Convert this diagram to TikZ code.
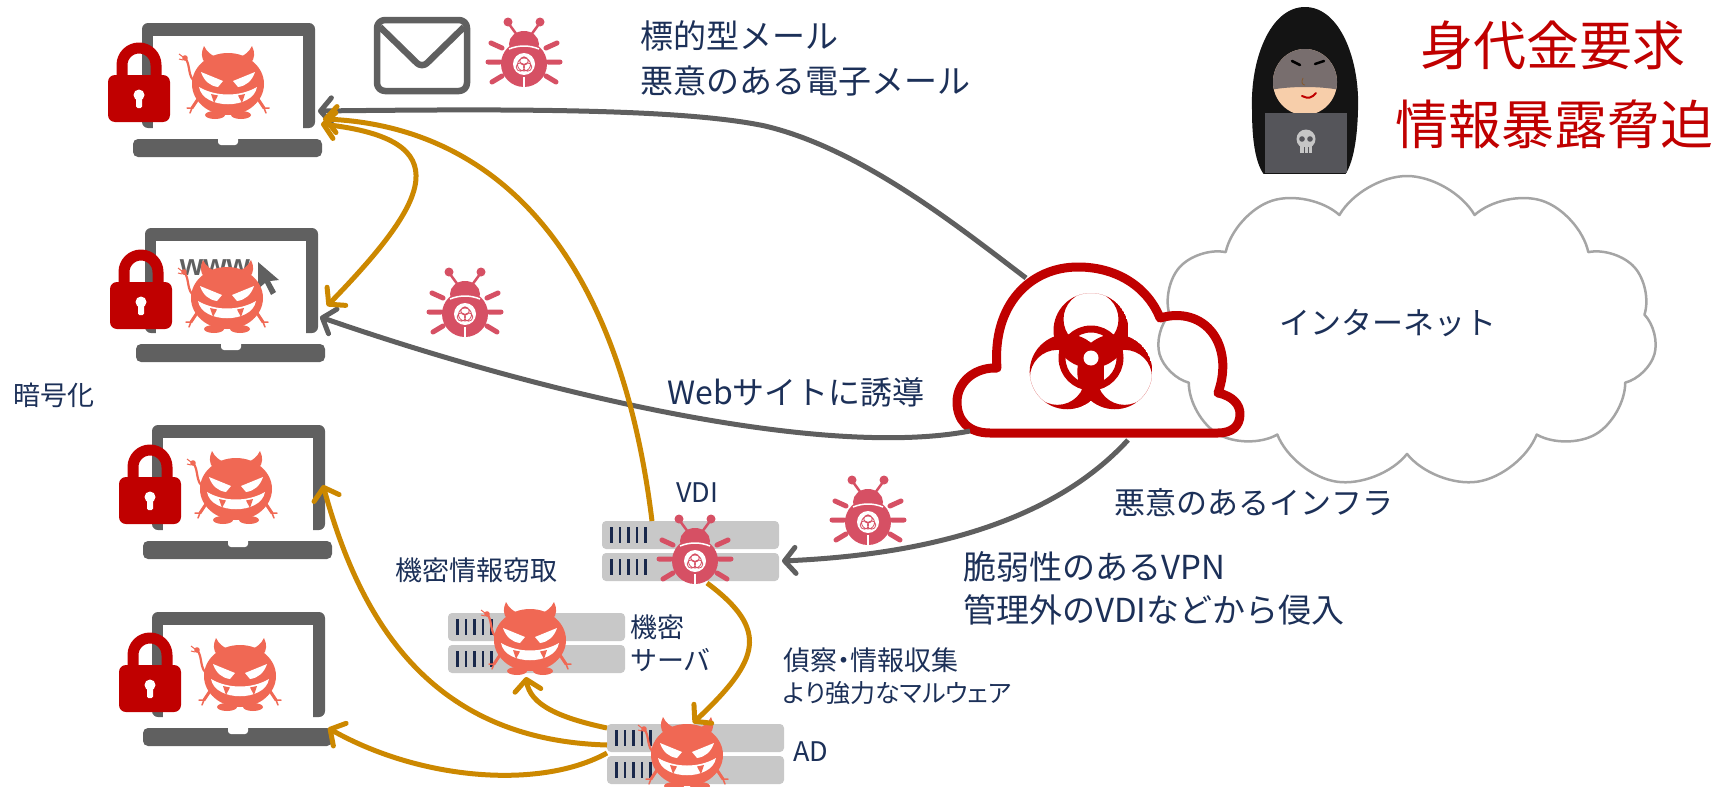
\documentclass[tikz,border=0pt]{standalone}
\usepackage{fontspec}
\setmainfont{Noto Sans CJK JP}
\newfontfamily\latinfont{Liberation Sans}
\newfontfamily\propjp[RawFeature=+palt]{Noto Sans CJK JP}
\usetikzlibrary{arrows.meta,shapes.symbols}

\definecolor{txt}{RGB}{28,48,88}
\definecolor{alert}{RGB}{192,0,0}
\definecolor{lapgray}{RGB}{96,96,96}
\definecolor{linkgray}{RGB}{95,95,95}
\definecolor{gold}{RGB}{204,136,0}
\definecolor{devil}{RGB}{240,104,84}
\definecolor{bug}{RGB}{214,80,100}
\definecolor{rack}{RGB}{200,200,200}
\definecolor{slot}{RGB}{25,40,75}
\definecolor{cloudgray}{RGB}{165,165,165}
\definecolor{skin}{RGB}{247,206,170}
\definecolor{mask}{RGB}{120,110,110}
\definecolor{pcgray}{RGB}{85,85,90}

\tikzset{
  barb/.tip={Straight Barb[length=11pt,width=26pt,round]},
  lbl/.style={text=txt, font=\fontsize{31}{37}\selectfont, inner sep=0pt},
  biglbl/.style={text=txt, font=\fontsize{33}{39}\selectfont, inner sep=0pt},
  smalllbl/.style={text=txt, font=\fontsize{27}{32}\selectfont, inner sep=0pt},
  bigred/.style={text=alert, font=\fontsize{53}{60}\selectfont, inner sep=0pt},
  grayarrow/.style={draw=linkgray, line width=5pt, -{barb}},
  goldarrow/.style={draw=gold, line width=5pt, -{barb}},
  laptop/.pic={
    \fill[lapgray, rounded corners=6pt] (0,0) rectangle (173,105);
    \fill[white] (11,13) rectangle (161,106);
    \fill[lapgray, rounded corners=5pt] (-9,116) rectangle (180,134);
    \fill[white, rounded corners=3pt] (76,112) rectangle (96,122);
  },
  padlock/.pic={
    \draw[alert, line width=11pt] (-17,4) -- (-17,-10) arc (180:360:17) -- (17,4);
    \fill[alert, rounded corners=7pt] (-31,0) rectangle (31,47);
    \fill[white] (0,20) circle (5.5);
    \fill[white, rounded corners=1.5pt] (-3,20) rectangle (3,33);
  },
  monster/.pic={
    \draw[devil, line width=2.2pt, line cap=round] (-32,-2) .. controls (-41,-6) and (-37,-20) .. (-43,-26);
    \fill[devil] (-43,-26) circle (2.8);
    \draw[devil, line width=1pt] (-45,-27) -- (-49,-30) (-45,-24) -- (-49,-25);
    \fill[devil] (-23,-21) .. controls (-27,-26) and (-27,-32) .. (-24,-38) .. controls (-21,-32) and (-17,-29) .. (-12,-27) -- cycle;
    \fill[devil] (23,-21) .. controls (27,-26) and (27,-32) .. (24,-38) .. controls (21,-32) and (17,-29) .. (12,-27) -- cycle;
    \draw[devil, line width=3pt, line cap=round] (-30,15) -- (-36,24) (30,15) -- (36,24);
    \draw[devil, line width=1.5pt, line cap=round] (-36,24) -- (-41,24) (-36,24) -- (-38,29) (36,24) -- (41,24) (36,24) -- (38,29);
    \fill[devil] (-13,31) ellipse (10 and 4) (13,31) ellipse (10 and 4);
    \fill[devil] (0,0) ellipse (36 and 31);
    \fill[white] (-27,-12) -- (-5,-3) -- (-10,3) .. controls (-18,2) and (-24,-3) .. cycle;
    \fill[white] (27,-12) -- (5,-3) -- (10,3) .. controls (18,2) and (24,-3) .. cycle;
    \fill[white] (-29,3) .. controls (-12,13) and (12,13) .. (29,3) .. controls (25,26) and (-25,26) .. cycle;
    \fill[devil] (-17,10) -- (-10,11.5) -- (-14,19) -- cycle;
    \fill[devil] (17,10) -- (10,11.5) -- (14,19) -- cycle;
    \fill[devil] (-2,20.5) rectangle (2,24);
  },
  virus/.pic={
    \draw[bug, line width=2.5pt] (-7,-25) -- (-15,-36) (7,-25) -- (15,-36);
    \fill[bug] (-16,-38) circle (4.5) (16,-38) circle (4.5);
    \draw[bug, line width=5pt, line cap=round]
      (-22,-12) -- (-33,-17) (-24,2) -- (-36,2) (-22,16) -- (-32,22)
      (22,-12) -- (33,-17) (24,2) -- (36,2) (22,16) -- (32,22);
    \fill[bug] (0,-16) ellipse (15 and 13);
    \fill[bug] (0,4) ellipse (23 and 23);
    \draw[white, line width=1.5pt] (-15,-11) .. controls (-5,-15) and (5,-15) .. (15,-11);
    \draw[white, line width=2pt] (0,17) -- (0,28);
    \fill[white] (0,4) circle (11);
    \draw[bug, line width=0.8pt] (0,1) circle (4.2) (-3.6,7) circle (4.2) (3.6,7) circle (4.2) (0,4.5) circle (6.5);
  },
  rackpair/.pic={
    \fill[rack, rounded corners=4pt] (0,0) rectangle (177,28);
    \fill[rack, rounded corners=4pt] (0,32) rectangle (177,60);
    \foreach \k in {0,...,4} {
      \fill[slot] (8+8.5*\k,6) rectangle ++(2.6,16);
      \fill[slot] (8+8.5*\k,38) rectangle ++(2.6,16);
    }
  },
}

\begin{document}
\begin{tikzpicture}[x=1pt, y=-1pt, line join=round]
\useasboundingbox (0,0) rectangle (1714,787);

% ---- internet cloud and malicious infrastructure ----
\node[cloud, draw=cloudgray, line width=2.5pt, cloud puffs=11, cloud puff arc=120,
      aspect=1.6, minimum width=500pt, minimum height=312pt, inner sep=0pt] (net) at (1407,332) {};
\node[lbl] (nettxt) at (1388,323) {インターネット};

\draw[alert, line width=9pt] (990,433) .. controls (968,433) and (957,420) .. (957,402)
  .. controls (957,382) and (975,367) .. (997,368)
  .. controls (992,305) and (1030,267) .. (1078,267)
  .. controls (1118,267) and (1148,288) .. (1160,318)
  .. controls (1205,305) and (1235,345) .. (1218,393)
  .. controls (1233,396) and (1240,405) .. (1240,414)
  .. controls (1240,426) and (1232,433) .. (1218,433) -- cycle;

% biohazard sign
\begin{scope}[shift={(1091,358)}]
  \foreach \a in {270,150,30} {
    \begin{scope}
      \clip (\a:27.5) circle (37.5);
      \fill[alert, even odd rule] (\a:27.5) circle (37.5) (\a:38.75) circle (27.5);
    \end{scope}
  }
  \draw[alert, line width=7pt] (0,0) circle (29);
  \fill[white] (0,0) circle (7.5);
\end{scope}
\coordinate (redNW) at (1026,278);
\coordinate (redSW) at (970,431);
\coordinate (redS) at (1128,440);

% ---- attacker ----
\begin{scope}
  \clip (1240,0) rectangle (1370,173);
  \fill[black!92] (1305,7) .. controls (1340,7) and (1360,60) .. (1358,110)
    .. controls (1357,150) and (1350,173) .. (1340,180) -- (1270,180)
    .. controls (1258,173) and (1252,150) .. (1252,110)
    .. controls (1250,60) and (1270,7) .. (1305,7) -- cycle;
\end{scope}
\fill[skin] (1305,82) ellipse (32 and 33);
\begin{scope}
  \clip (1305,82) ellipse (32 and 33);
  \fill[mask] (1270,40) -- (1340,40) -- (1340,90) .. controls (1320,86) and (1290,86) .. (1270,90) -- cycle;
  \fill[black!92] (1270,40) -- (1305,48) -- (1340,40) -- cycle;
\end{scope}
\draw[black, line width=2.5pt, line cap=round] (1292,61) -- (1300,65) (1315,64) -- (1324,61);
\draw[brown!70!black, line width=0.8pt] (1303,78) .. controls (1301,82) and (1302,85) .. (1305,85);
\draw[red!75!black, line width=2pt, line cap=round] (1302,96) .. controls (1308,99) and (1312,98) .. (1316,93);
\fill[pcgray] (1265,113) rectangle (1347,173);
\fill[gray!45] (1306,139) circle (9.5);
\fill[gray!45] (1300,143) rectangle (1312,153);
\fill[pcgray] (1302,139) circle (2.8) (1310,139) circle (2.8);
\draw[pcgray, line width=0.8pt] (1304,147) -- (1304,153) (1308,147) -- (1308,153);

\node[bigred] (ransom) at (1553,45) {身代金要求};
\node[bigred] (leak) at (1554,124) {情報暴露脅迫};

% ---- client laptops ----
\pic (lap1) at (142,23) {laptop};
\pic (lap2) at (145,228) {laptop};
\pic (lap3) at (152,425) {laptop};
\pic (lap4) at (152,612) {laptop};

\node[font=\latinfont\bfseries\fontsize{30}{30}\selectfont, text=lapgray, inner sep=0pt] (www) at (215,268) {www};
\fill[lapgray] (258,262) -- (258,289) -- (265,283) -- (271,295) -- (276,292) -- (270,281) -- (279,280) -- cycle;

\pic (dv1) at (228,84) {monster};
\pic (dv2) at (227,298) {monster};
\pic (dv3) at (236,489) {monster};
\pic (dv4) at (240,676) {monster};

\pic (lk1) at (139,75) {padlock};
\pic (lk2) at (141,282) {padlock};
\pic (lk3) at (150,477) {padlock};
\pic (lk4) at (150,665) {padlock};

\node[smalllbl, anchor=west] (crypt) at (13,395) {暗号化};

% ---- mail and viruses ----
\draw[lapgray, line width=6.5pt, rounded corners=8pt] (377,20) rectangle (467,91);
\draw[lapgray, line width=6.5pt, rounded corners=7pt] (380,27) -- (422,68) -- (464,27);

\pic (bug1) at (524,60) {virus};
\pic (bug2) at (465,310) {virus};
\pic (bug3) at (868,518) {virus};

% ---- servers ----
\pic (vdi) at (602,521) {rackpair};
\pic (sec) at (448,613) {rackpair};
\pic (ad) at (607,724) {rackpair};
\pic (bug4) at (695,557) {virus};
\pic (dv5) at (530,640) {monster};
\pic (dv6) at (687,755) {monster};

\node[smalllbl] (vditxt) at (697,493) {VDI};
\node[smalllbl, anchor=west] (adtxt) at (793,752) {AD};
\node[smalllbl, anchor=west] (sectxt1) at (630,627) {機密};
\node[smalllbl, anchor=west] (sectxt2) at (630,660) {サーバ};
\node[smalllbl, anchor=west] (steal) at (395,570) {機密情報窃取};
\node[smalllbl, anchor=west, font=\propjp\fontsize{27}{32}\selectfont] (recon1) at (783,660) {偵察・情報収集};
\node[smalllbl, anchor=west, font=\propjp\fontsize{25}{30}\selectfont] (recon2) at (783,693) {より強力なマルウェア};

% ---- labels of the attack routes ----
\node[biglbl, anchor=west] (mail1) at (640,36) {標的型メール};
\node[biglbl, anchor=west] (mail2) at (640,81) {悪意のある電子メール};
\node[lbl, font=\fontsize{32}{38}\selectfont] (webtxt) at (796,392) {Webサイトに誘導};
\node[lbl] (infra) at (1254,503) {悪意のあるインフラ};
\node[biglbl, anchor=west] (vpn1) at (963,567) {脆弱性のあるVPN};
\node[biglbl, anchor=west] (vpn2) at (963,610) {管理外のVDIなどから侵入};

% ---- connector end points ----
\coordinate (lap1mail) at (318,111);
\coordinate (lap1gold) at (323,119);
\coordinate (lap1gold2) at (321,124);
\coordinate (lap2web) at (320,317);
\coordinate (lap2gold) at (327,306);
\coordinate (lap3gold) at (323,485);
\coordinate (lap4gold) at (328,728);
\coordinate (vdiE) at (782,561);
\coordinate (vdiTop) at (652,521);
\coordinate (vdiBot) at (707,583);
\coordinate (adTop) at (693,723);
\coordinate (adW1) at (607,728);
\coordinate (adW2) at (607,745);
\coordinate (adW3) at (607,753);
\coordinate (secBot) at (526,677);

% ---- attack routes ----
\draw[grayarrow] (redNW) .. controls (960,228) and (862,149) .. (765,126)
  .. controls (680,108) and (500,109) .. (lap1mail);
\draw[grayarrow] (redSW) .. controls (830,458) and (560,400) .. (lap2web);
\draw[grayarrow] (redS) .. controls (1050,525) and (920,555) .. (vdiE);

\draw[goldarrow] (vdiTop) .. controls (615,220) and (470,125) .. (lap1gold);
\draw[goldarrow, {barb}-{barb}] (lap1gold2) .. controls (460,140) and (430,200) .. (lap2gold);
\draw[goldarrow] (vdiBot) .. controls (770,630) and (760,660) .. (adTop);
\draw[goldarrow] (adW1) .. controls (560,718) and (530,705) .. (secBot);
\draw[goldarrow] (adW2) .. controls (430,740) and (360,620) .. (lap3gold);
\draw[goldarrow] (adW3) .. controls (540,790) and (420,780) .. (lap4gold);
\end{tikzpicture}
\end{document}
